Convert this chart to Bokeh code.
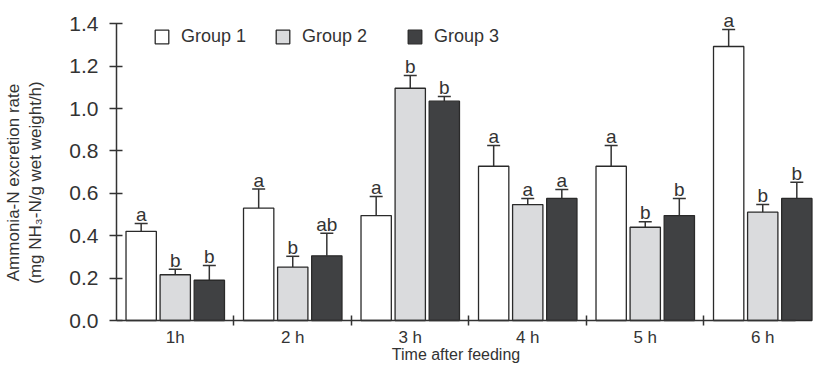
from bokeh.plotting import figure
from bokeh.models import (ColumnDataSource, FixedTicker, LinearAxis, Legend, LegendItem,
                          Range1d, Whisker, TeeHead, PrintfTickFormatter)
from bokeh.core.properties import value
from bokeh.embed import file_html
from bokeh.resources import INLINE

times = ["1h", "2 h", "3 h", "4 h", "5 h", "6 h"]
groups = ["Group 1", "Group 2", "Group 3"]
g1_mean = [0.421, 0.530, 0.495, 0.728, 0.728, 1.293]
g1_err = [0.037, 0.090, 0.090, 0.098, 0.098, 0.080]
g1_sig = ["a", "a", "a", "a", "a", "a"]
g2_mean = [0.216, 0.252, 1.096, 0.547, 0.440, 0.511]
g2_err = [0.026, 0.051, 0.060, 0.029, 0.026, 0.036]
g2_sig = ["b", "b", "b", "a", "b", "b"]
g3_mean = [0.190, 0.305, 1.035, 0.576, 0.495, 0.576]
g3_err = [0.070, 0.107, 0.022, 0.042, 0.081, 0.077]
g3_sig = ["b", "ab", "b", "a", "b", "b"]
y_ticks = [0.0, 0.2, 0.4, 0.6, 0.8, 1.0, 1.2, 1.4]
x_title = "Time after feeding"

colors = ["#ffffff", "#dadbdd", "#404143"]
offsets = [-0.29, 0.0, 0.29]
FONT = "Liberation Sans"
DARK = "#333333"

p = figure(width=813, height=364, output_backend="svg", toolbar_location=None,
           x_range=Range1d(0.5, 6.432), y_range=Range1d(-0.2076, 1.5101),
           min_border_left=113, min_border_right=0, min_border_top=0, min_border_bottom=0)
p.outline_line_color = None
p.grid.grid_line_color = None
p.background_fill_color = "white"

renderers = []
for means, errs, sigs, col, off in zip([g1_mean, g2_mean, g3_mean], [g1_err, g2_err, g3_err],
                                       [g1_sig, g2_sig, g3_sig], colors, offsets):
    xs = [i + 1 + off for i in range(len(times))]
    src = ColumnDataSource(dict(x=xs, top=means, upper=[m + e for m, e in zip(means, errs)],
                                sig=sigs))
    r = p.vbar(x="x", top="top", width=0.258, source=src, fill_color=col,
               line_color="#2a2a2a", line_width=1.3)
    renderers.append(r)
    w = Whisker(base="x", upper="upper", lower="top", source=src, dimension="height",
                line_color=DARK, line_width=1.5, lower_head=None,
                upper_head=TeeHead(size=13, line_color=DARK, line_width=1.5))
    p.add_layout(w)
    p.text(x="x", y="upper", text="sig", source=src, text_align="center",
           text_baseline="alphabetic", y_offset=-9, text_font_size="19px",
           text_color=DARK, text_font=value(FONT))

# y axis (ticks only)
ya = p.yaxis[0]
ya.ticker = FixedTicker(ticks=y_ticks)
ya.bounds = (0, 1.4)
ya.formatter = PrintfTickFormatter(format="%.1f")
ya.major_tick_in = 6
ya.major_tick_out = 7
ya.minor_tick_line_color = None
ya.minor_tick_out = 0
ya.axis_line_width = 1.5
ya.axis_line_color = DARK
ya.major_tick_line_color = DARK
ya.major_tick_line_width = 1.5
ya.major_label_text_font_size = "21px"
ya.major_label_text_font = FONT
ya.major_label_text_color = DARK
ya.major_label_standoff = 11


def label_axis(text, standoff, bounds, cls=LinearAxis):
    return cls(ticker=FixedTicker(ticks=[]), axis_line_color=None, bounds=bounds,
               major_tick_line_color=None, minor_tick_line_color=None,
               major_tick_in=0, major_tick_out=0, minor_tick_in=0, minor_tick_out=0,
               major_label_text_font_size="0px", major_label_standoff=0,
               axis_label=text, axis_label_text_font_size="17px",
               axis_label_text_font=FONT, axis_label_text_font_style="normal",
               axis_label_text_color=DARK, axis_label_standoff=standoff)


p.add_layout(label_axis("(mg NH\u2083-N/g wet weight/h)", 22, (0.24, 1.4)), "left")
p.add_layout(label_axis("Ammonia-N excretion rate", 0, (0.24, 1.4)), "left")

# x axis, drawn at y = 0 inside the frame
xa = p.xaxis[0]
xa.fixed_location = 0
xa.bounds = (0.5, 6.28)
xa.ticker = FixedTicker(ticks=[1, 2, 3, 4, 5, 6], minor_ticks=[1.5, 2.5, 3.5, 4.5, 5.5])
xa.major_label_overrides = {i + 1: t for i, t in enumerate(times)}
xa.major_tick_line_color = None
xa.major_tick_in = 0
xa.major_tick_out = 5
xa.minor_tick_in = 5
xa.minor_tick_out = 5
xa.minor_tick_line_color = DARK
xa.minor_tick_line_width = 1.5
xa.axis_line_width = 1.5
xa.axis_line_color = DARK
xa.major_label_text_font_size = "17px"
xa.major_label_text_font = FONT
xa.major_label_text_color = DARK
xa.major_label_standoff = 2
xa.axis_label = x_title
xa.axis_label_text_font_size = "16px"
xa.axis_label_text_font = FONT
xa.axis_label_text_font_style = "normal"
xa.axis_label_text_color = DARK
xa.axis_label_standoff = -4

# legends (one per group for exact placement)
leg_x = [37, 158, 290]
for g, r, lx in zip(groups, renderers, leg_x):
    lg = Legend(items=[LegendItem(label=g, renderers=[r])], location=(lx, 317),
                orientation="horizontal", border_line_color=None, background_fill_alpha=0,
                padding=0, margin=0, glyph_width=17, glyph_height=17, label_standoff=11,
                label_text_font_size="18px", label_text_font=FONT, label_text_color=DARK,
                spacing=0)
    p.add_layout(lg, "center")

open("out.html", "w").write(file_html(p, INLINE))
